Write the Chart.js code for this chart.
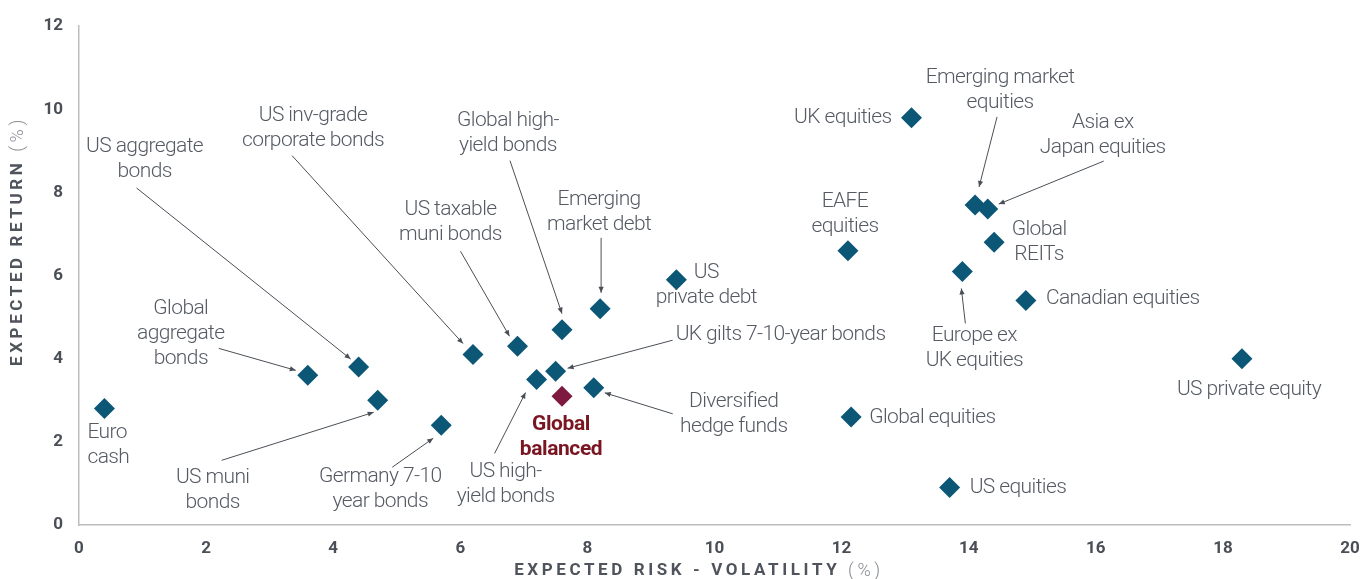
<!DOCTYPE html>
<html>
<head>
<meta charset="utf-8">
<script src="https://cdn.jsdelivr.net/npm/chart.js@4"></script>
<style>
  html, body { margin: 0; padding: 0; background: #fff; }
  #riskReturn { display: block; }
</style>
</head>
<body>
<canvas id="riskReturn" width="1370" height="579"></canvas>
<script>
// expected risk (volatility, %) vs expected return (%)
const assets = [
  "Euro cash", "Global aggregate bonds", "US aggregate bonds", "US muni bonds",
  "Germany 7-10 year bonds", "US inv-grade corporate bonds", "US taxable muni bonds",
  "Global high-yield bonds", "Emerging market debt", "US private debt",
  "UK gilts 7-10-year bonds", "US high-yield bonds", "Global balanced",
  "Diversified hedge funds", "Global equities", "US equities", "EAFE equities",
  "UK equities", "Emerging market equities", "Asia ex Japan equities",
  "Global REITs", "Europe ex UK equities", "Canadian equities", "US private equity"
];
const risk = [0.4, 3.6, 4.4, 4.7, 5.7, 6.2, 6.9, 7.6, 8.2, 9.4, 7.5, 7.2, 7.6,
  8.1, 12.15, 13.7, 12.1, 13.1, 14.1, 14.3, 14.4, 13.9, 14.9, 18.3];
const expectedReturn = [2.8, 3.6, 3.8, 3.0, 2.4, 4.1, 4.3, 4.7, 5.2, 5.9, 3.7, 3.5, 3.1,
  3.3, 2.6, 0.9, 6.6, 9.8, 7.7, 7.6, 6.8, 6.1, 5.4, 4.0];
const highlight = "Global balanced";
const xTickStep = 2;
const yTickStep = 2;

const TEAL = "#0b5775";
const RED = "#7e1a40";
const TEXT = "#555a63";

// label placement: pixel offsets from the marker (dx/dy of first line), optional arrow [sx, sy, ex, ey]
const labelLayout = {
  "Euro cash": { lines: ["Euro", "cash"], align: "left", dx: -17, dy: 24 },
  "Global aggregate bonds": { lines: ["Global", "aggregate", "bonds"], dx: -127, dy: -67, arrow: [-89, -27, -12, -5] },
  "US aggregate bonds": { lines: ["US aggregate", "bonds"], dx: -214, dy: -220, arrow: [-222, -179, -8, -8] },
  "US muni bonds": { lines: ["US muni", "bonds"], dx: -165, dy: 77, arrow: [-156, 60, -4, 12] },
  "Germany 7-10 year bonds": { lines: ["Germany 7-10", "year bonds"], dx: -61, dy: 52, arrow: [-49, 42, -8, 13] },
  "US inv-grade corporate bonds": { lines: ["US inv-grade", "corporate bonds"], dx: -160, dy: -239, arrow: [-181, -199, -10, -11] },
  "US taxable muni bonds": { lines: ["US taxable", "muni bonds"], dx: -67, dy: -137, arrow: [-57, -95, -8, -10] },
  "Global high-yield bonds": { lines: ["Global high-", "yield bonds"], dx: -54, dy: -209, arrow: [-52, -169, 0, -16] },
  "Emerging market debt": { lines: ["Emerging", "market debt"], dx: -1, dy: -109, arrow: [1, -71, 1, -16] },
  "US private debt": { lines: ["US", "private debt"], dx: 30, dy: -7 },
  "UK gilts 7-10-year bonds": { lines: ["UK gilts 7-10-year bonds"], align: "left", dx: 120, dy: -36, arrow: [117, -31, 12, -3] },
  "US high-yield bonds": { lines: ["US high-", "yield bonds"], dx: -31, dy: 92, arrow: [-42, 74, -11, 13] },
  "Global balanced": { lines: ["Global", "balanced"], dx: -1, dy: 29, bold: true },
  "Diversified hedge funds": { lines: ["Diversified", "hedge funds"], dx: 140, dy: 14, arrow: [79, 26, 11, 5] },
  "Global equities": { lines: ["Global equities"], align: "left", dx: 18, dy: 1 },
  "US equities": { lines: ["US equities"], align: "left", dx: 20, dy: 0 },
  "EAFE equities": { lines: ["EAFE", "equities"], dx: -3, dy: -49 },
  "UK equities": { lines: ["UK equities"], align: "right", dx: -20, dy: 0 },
  "Emerging market equities": { lines: ["Emerging market", "equities"], dx: 25, dy: -127, arrow: [22, -88, 4, -18] },
  "Asia ex Japan equities": { lines: ["Asia ex", "Japan equities"], dx: 115, dy: -86, arrow: [116, -48, 11, -5] },
  "Global REITs": { lines: ["Global", "REITs"], dx: 45, dy: -13 },
  "Europe ex UK equities": { lines: ["Europe ex", "UK equities"], dx: 12, dy: 64, arrow: [3, 52, -1, 17] },
  "Canadian equities": { lines: ["Canadian equities"], align: "left", dx: 20, dy: -2 },
  "US private equity": { lines: ["US private equity"], dx: 7, dy: 31 }
};

const points = assets.map((name, i) => ({ x: risk[i], y: expectedReturn[i], name: name }));

function drawArrow(ctx, sx, sy, ex, ey) {
  ctx.beginPath();
  ctx.moveTo(sx, sy);
  ctx.lineTo(ex, ey);
  ctx.stroke();
  const a = Math.atan2(ey - sy, ex - sx);
  const len = 6, half = 2.6;
  ctx.beginPath();
  ctx.moveTo(ex, ey);
  ctx.lineTo(ex - len * Math.cos(a) + half * Math.sin(a), ey - len * Math.sin(a) - half * Math.cos(a));
  ctx.lineTo(ex - len * Math.cos(a) - half * Math.sin(a), ey - len * Math.sin(a) + half * Math.cos(a));
  ctx.closePath();
  ctx.fill();
}

const annotations = {
  id: "annotations",
  afterDatasetsDraw(chart) {
    const ctx = chart.ctx;
    const xs = chart.scales.x, ys = chart.scales.y;
    ctx.save();
    points.forEach(p => {
      const lay = labelLayout[p.name];
      if (!lay) return;
      const px = xs.getPixelForValue(p.x), py = ys.getPixelForValue(p.y);
      if (lay.arrow) {
        ctx.strokeStyle = "#4a4f57";
        ctx.fillStyle = "#4a4f57";
        ctx.lineWidth = 1;
        drawArrow(ctx, px + lay.arrow[0], py + lay.arrow[1], px + lay.arrow[2], py + lay.arrow[3]);
      }
      ctx.font = lay.bold ? "700 21px Roboto" : "300 21px Roboto";
      ctx.letterSpacing = lay.bold ? "-0.4px" : "-0.6px";
      ctx.fillStyle = lay.bold ? "#7a1522" : TEXT;
      ctx.textAlign = lay.align || "center";
      ctx.textBaseline = "middle";
      lay.lines.forEach((t, k) => ctx.fillText(t, px + lay.dx, py + lay.dy + k * 25));
    });
    ctx.restore();
  }
};

// axis titles: bold spaced caps followed by a light "(%)"
function spacedTitle(ctx, bold, light, cx, cy, rotate) {
  ctx.save();
  ctx.translate(cx, cy);
  if (rotate) ctx.rotate(-Math.PI / 2);
  ctx.textBaseline = "middle";
  ctx.textAlign = "left";
  ctx.letterSpacing = "3.6px";
  ctx.font = "700 17px Roboto";
  const w1 = ctx.measureText(bold + " ").width;
  ctx.font = "300 18px Roboto";
  const w2 = ctx.measureText(light).width;
  let x = -(w1 + w2) / 2;
  ctx.font = "700 17px Roboto";
  ctx.fillStyle = "#4f545c";
  ctx.fillText(bold + " ", x, 0);
  ctx.font = "300 18px Roboto";
  ctx.fillStyle = "#8a8e94";
  ctx.fillText(light, x + w1, 0);
  ctx.restore();
}

const axisTitles = {
  id: "axisTitles",
  afterDraw(chart) {
    const ctx = chart.ctx;
    spacedTitle(ctx, "EXPECTED RISK - VOLATILITY", "(%)", 699, 571, false);
    spacedTitle(ctx, "EXPECTED RETURN", "(%)", 18, 241, true);
  }
};

new Chart(document.getElementById("riskReturn"), {
  type: "scatter",
  data: {
    datasets: [{
      data: points.filter(p => p.name !== highlight),
      backgroundColor: TEAL,
      borderWidth: 0,
      pointStyle: "rectRot",
      pointRadius: 10.5
    }, {
      data: points.filter(p => p.name === highlight),
      backgroundColor: RED,
      borderWidth: 0,
      pointStyle: "rectRot",
      pointRadius: 10.5
    }]
  },
  options: {
    responsive: false,
    devicePixelRatio: 1,
    animation: false,
    layout: { padding: { top: 25, right: 20, left: 0, bottom: 0 } },
    plugins: { legend: { display: false }, tooltip: { enabled: false } },
    scales: {
      x: {
        min: 0, max: 20,
        grid: { display: false, drawTicks: false },
        border: { display: true, color: "#bdbdbd", width: 1.5 },
        ticks: { stepSize: xTickStep, padding: 14, color: "#4a4f57", font: { family: "Roboto", weight: "700", size: 17 } },
        afterFit: s => { s.height = 54; s.paddingRight = 0; s.paddingLeft = 0; }
      },
      y: {
        min: 0, max: 12,
        grid: { display: false, drawTicks: false },
        border: { display: true, color: "#bdbdbd", width: 1.5 },
        ticks: { stepSize: yTickStep, padding: 16, color: "#4a4f57", font: { family: "Roboto", weight: "700", size: 17 } },
        afterFit: s => { s.width = 79; }
      }
    }
  },
  plugins: [annotations, axisTitles]
});
</script>
</body>
</html>
